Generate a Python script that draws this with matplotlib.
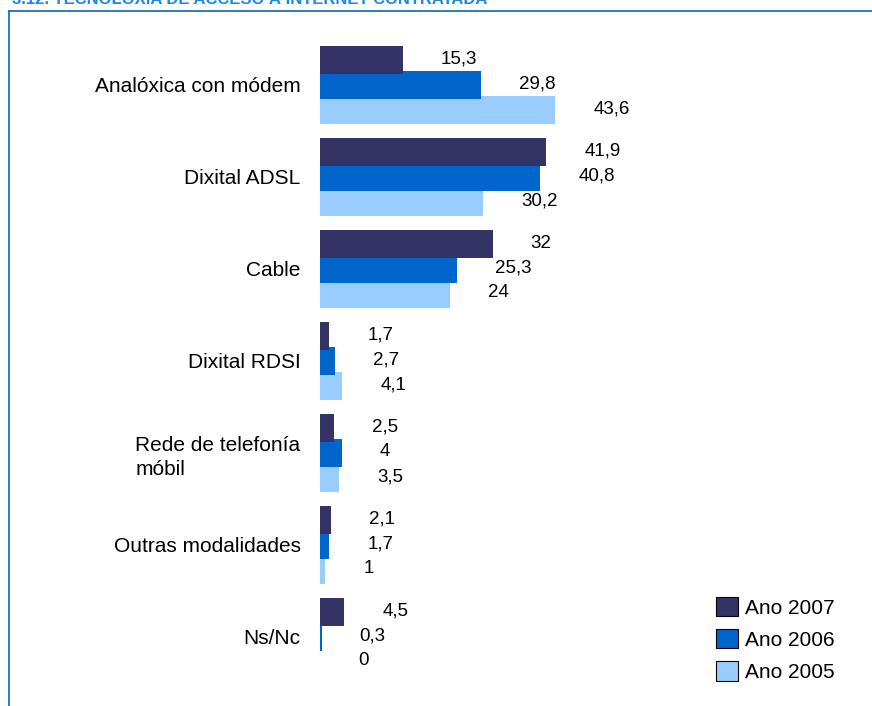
import numpy as np
import matplotlib
matplotlib.use("Agg")
import matplotlib.pyplot as plt
from matplotlib.patches import Patch
from matplotlib.lines import Line2D

plt.rcParams['font.family'] = ['Liberation Sans', 'DejaVu Sans']

# Data
categories = ["Analóxica con módem", "Dixital ADSL", "Cable", "Dixital RDSI",
              "Rede de telefonía\nmóbil", "Outras modalidades", "Ns/Nc"]
ano_2007 = [15.3, 41.9, 32, 1.7, 2.5, 2.1, 4.5]
ano_2006 = [29.8, 40.8, 25.3, 2.7, 4, 1.7, 0.3]
ano_2005 = [43.6, 30.2, 24, 4.1, 3.5, 1, 0]
series_names = ["Ano 2007", "Ano 2006", "Ano 2005"]
colors = ["#333366", "#0066CC", "#99CCFF"]

W, H = 872, 706
fig = plt.figure(figsize=(W / 100, H / 100), dpi=100)

# axes placed in pixel terms
ax_left, ax_right = 320, 860
ax_top, ax_bottom = 39, 683
ax = fig.add_axes([ax_left / W, 1 - ax_bottom / H,
                   (ax_right - ax_left) / W, (ax_bottom - ax_top) / H])

y = np.arange(len(categories))
offset = 0.27
height = 0.31

def fmt(v):
    s = f"{v:.1f}".replace(".", ",")
    if s.endswith(",0"):
        s = s[:-2]
    return s

# draw light first so the darker bars overlap on top
series = [ano_2007, ano_2006, ano_2005]
for k in [2, 1, 0]:
    pos = y + (k - 1) * offset
    ax.barh(pos, series[k], height=height, color=colors[k], zorder=2 + (2 - k))
    for p, v in zip(pos, series[k]):
        ax.annotate(fmt(v), xy=(v, p), xytext=(38, 1), textcoords="offset pixels",
                    ha="left", va="center", fontsize=13.5, color="black")

ax.set_xlim(0, (ax_right - ax_left) / 5.4)
ax.set_ylim(len(categories) - 0.5, -0.5)
ax.set_yticks(y)
ax.set_yticklabels(categories, fontsize=15)
for lab in ax.get_yticklabels():
    lab.set_multialignment("left")
    lab.set_linespacing(1.35)
ax.tick_params(axis="y", length=0, pad=14)
ax.set_xticks([])
for s in ax.spines.values():
    s.set_visible(False)

# legend
handles = [Patch(facecolor=c, edgecolor="black", linewidth=0.8) for c in colors]
fig.legend(handles, series_names, loc="upper left",
           bbox_to_anchor=(697 / W, 1 - 578 / H), frameon=False,
           fontsize=15, handlelength=1.05, handleheight=1.05,
           handletextpad=0.35, labelspacing=0.55)

# frame around the chart and clipped title
frame_col = "#0B63B8"
fig.add_artist(Line2D([9 / W, 1], [1 - 11 / H, 1 - 11 / H], color=frame_col, lw=1.2))
fig.add_artist(Line2D([9 / W, 9 / W], [0, 1 - 11 / H], color=frame_col, lw=1.2))
fig.text(12 / W, 1 - 4 / H, "3.12. TECNOLOXÍA DE ACCESO Á INTERNET CONTRATADA",
         color="#1E88E5", fontsize=12, fontweight="bold", va="baseline", ha="left")

fig.savefig("out.png", dpi=100)
